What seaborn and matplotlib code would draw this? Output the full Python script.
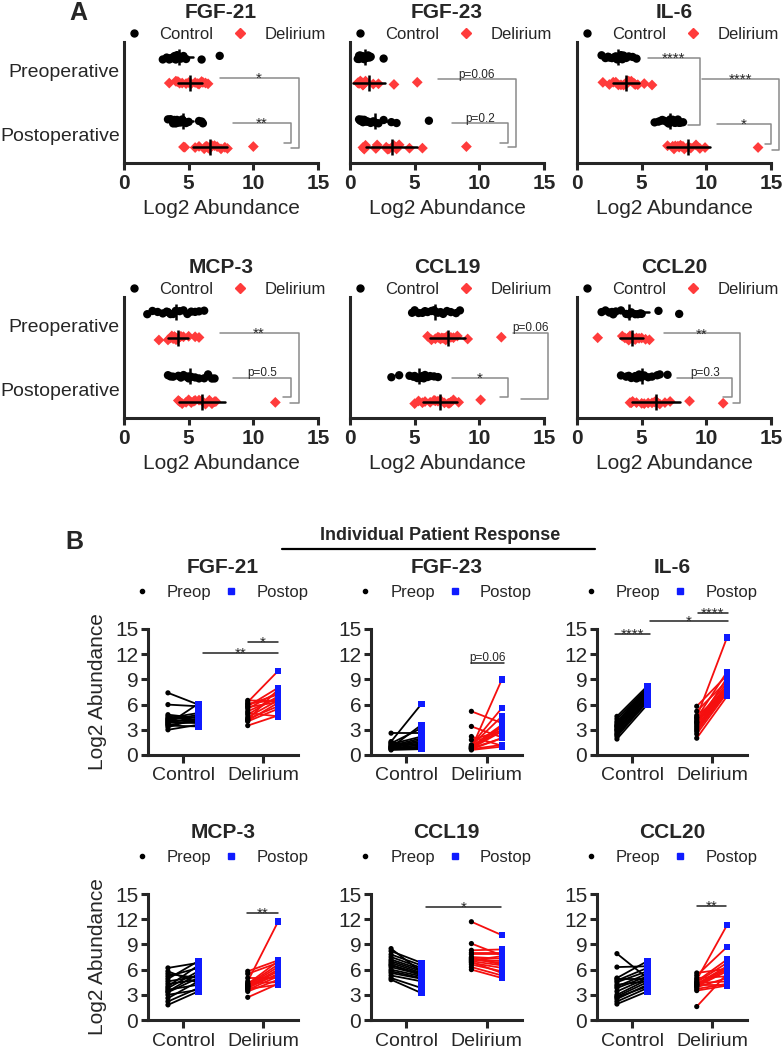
import numpy as np
import pandas as pd
import matplotlib.pyplot as plt
import seaborn as sns
from matplotlib.lines import Line2D

# ---- data (log2 abundance, paired by patient index) ----
markers = ["FGF-21", "FGF-23", "IL-6", "MCP-3", "CCL19", "CCL20"]
groups = ["Control", "Delirium"]
times_a = ["Preoperative", "Postoperative"]
times_b = ["Preop", "Postop"]

fgf21_ctrl_pre = [3.0, 3.3, 3.5, 3.6, 3.8, 3.9, 4.0, 4.1, 4.2, 4.3, 4.4, 4.6, 4.8, 6.0, 7.4, 3.7]
fgf21_ctrl_post = [3.6, 4.4, 3.4, 4.0, 4.6, 3.8, 4.2, 4.8, 3.9, 4.5, 5.0, 4.1, 4.4, 5.8, 6.0, 6.1]
fgf21_del_pre = [3.5, 4.0, 4.1, 4.3, 4.5, 4.8, 5.0, 5.2, 5.5, 5.7, 5.8, 6.0, 6.1, 6.3, 6.5, 4.2]
fgf21_del_post = [4.7, 5.5, 6.2, 5.8, 6.5, 7.0, 4.6, 6.8, 7.5, 6.3, 8.0, 7.2, 6.6, 10.0, 6.4, 7.8]

fgf23_ctrl_pre = [0.6, 0.7, 0.8, 0.8, 0.9, 1.0, 1.0, 1.1, 1.2, 1.3, 1.4, 1.5, 0.7, 0.9, 1.6, 2.6]
fgf23_ctrl_post = [0.7, 0.9, 1.0, 1.2, 1.4, 1.6, 1.8, 2.0, 1.3, 2.2, 3.2, 1.1, 0.8, 3.6, 6.1, 2.6]
fgf23_del_pre = [0.6, 0.7, 0.7, 0.8, 0.8, 0.9, 0.9, 1.0, 1.0, 1.1, 1.2, 1.8, 2.2, 3.4, 5.2, 0.8]
fgf23_del_post = [1.0, 1.2, 2.0, 2.0, 9.0, 3.0, 3.4, 3.6, 3.3, 4.6, 5.6, 2.9, 1.1, 2.1, 3.8, 2.8]

il6_ctrl_pre = [1.9, 2.2, 2.5, 2.7, 2.9, 3.0, 3.1, 3.3, 3.4, 3.6, 3.8, 4.0, 4.3, 4.6, 2.4, 3.5]
il6_ctrl_post = [6.0, 6.3, 6.6, 6.8, 7.0, 7.1, 7.2, 7.4, 7.5, 7.6, 7.8, 7.9, 8.0, 8.2, 6.5, 7.7]
il6_del_pre = [2.0, 2.5, 2.8, 3.0, 3.2, 3.4, 3.6, 3.8, 4.0, 4.2, 4.4, 4.5, 4.7, 5.2, 5.8, 3.9]
il6_del_post = [7.0, 7.4, 7.6, 7.8, 8.0, 8.2, 9.2, 7.9, 8.3, 8.6, 9.9, 14.0, 7.5, 8.8, 9.5, 8.1]

mcp3_ctrl_pre = [1.8, 2.2, 2.6, 3.0, 3.3, 3.6, 3.8, 4.0, 4.3, 4.6, 4.9, 5.2, 5.5, 5.8, 6.2, 3.4]
mcp3_ctrl_post = [3.4, 3.8, 4.6, 3.6, 5.0, 4.2, 5.8, 6.5, 4.8, 5.2, 7.0, 6.2, 5.0, 4.4, 6.8, 5.5]
mcp3_del_pre = [2.7, 3.4, 3.6, 3.8, 3.9, 4.0, 4.1, 4.2, 4.3, 4.4, 4.6, 5.0, 5.5, 5.8, 3.7, 4.0]
mcp3_del_post = [4.3, 4.8, 5.2, 5.5, 5.8, 6.0, 6.3, 6.6, 7.0, 4.5, 11.7, 5.0, 6.8, 7.1, 4.2, 5.4]

ccl19_ctrl_pre = [4.8, 5.0, 5.3, 5.6, 5.8, 6.0, 6.3, 6.5, 6.8, 7.0, 7.2, 7.5, 7.8, 8.2, 8.5, 6.6]
ccl19_ctrl_post = [3.2, 3.8, 4.6, 4.9, 5.0, 5.2, 5.4, 5.5, 5.6, 5.8, 6.0, 6.2, 6.5, 6.8, 5.7, 5.3]
ccl19_del_pre = [6.0, 6.3, 6.6, 6.8, 7.0, 7.1, 7.2, 7.3, 7.5, 7.8, 8.0, 8.3, 9.1, 11.7, 6.9, 7.4]
ccl19_del_post = [5.0, 5.3, 5.8, 6.2, 6.5, 7.6, 6.8, 7.0, 7.3, 7.8, 8.0, 8.4, 7.7, 10.1, 5.6, 6.6]

ccl20_ctrl_pre = [1.9, 2.2, 2.5, 2.8, 3.0, 3.4, 3.8, 4.0, 4.2, 4.5, 4.7, 4.9, 5.0, 6.3, 7.9, 2.7]
ccl20_ctrl_post = [3.4, 3.8, 4.2, 4.5, 4.8, 5.0, 5.2, 5.5, 4.6, 5.8, 6.2, 4.9, 7.0, 6.4, 5.0, 4.0]
ccl20_del_pre = [1.6, 3.5, 3.7, 3.9, 4.0, 4.1, 4.2, 4.3, 4.4, 4.5, 4.6, 4.8, 5.0, 5.3, 5.6, 4.2]
ccl20_del_post = [5.5, 4.1, 4.3, 5.0, 5.8, 6.0, 6.2, 6.4, 4.6, 6.8, 7.2, 11.3, 5.2, 8.7, 6.1, 4.2]

values = {
    "FGF-21": (fgf21_ctrl_pre, fgf21_ctrl_post, fgf21_del_pre, fgf21_del_post),
    "FGF-23": (fgf23_ctrl_pre, fgf23_ctrl_post, fgf23_del_pre, fgf23_del_post),
    "IL-6": (il6_ctrl_pre, il6_ctrl_post, il6_del_pre, il6_del_post),
    "MCP-3": (mcp3_ctrl_pre, mcp3_ctrl_post, mcp3_del_pre, mcp3_del_post),
    "CCL19": (ccl19_ctrl_pre, ccl19_ctrl_post, ccl19_del_pre, ccl19_del_post),
    "CCL20": (ccl20_ctrl_pre, ccl20_ctrl_post, ccl20_del_pre, ccl20_del_post),
}

# significance brackets, panel A: (label, y_top, y_bottom, x_start, x_right, x_hook)
brackets_a = {
    "FGF-21": [("*", 0.12, 1.22, 7.4, 13.5, 12.9), ("**", 0.83, 1.14, 8.4, 12.9, 12.4)],
    "FGF-23": [("p=0.06", 0.14, 1.20, 6.8, 12.8, 12.2), ("p=0.2", 0.83, 1.14, 7.9, 12.2, 11.6)],
    "IL-6": [("****", -0.19, 0.86, 5.5, 9.5, 8.6), ("****", 0.14, 1.25, 9.7, 15.6, 15.1),
             ("*", 0.84, 1.16, 10.8, 15.0, 14.5)],
    "MCP-3": [("**", 0.12, 1.21, 7.4, 13.5, 12.8), ("p=0.5", 0.82, 1.12, 8.4, 12.9, 12.3)],
    "CCL19": [("p=0.06", 0.12, 1.16, 12.6, 15.3, 13.2), ("*", 0.82, 1.12, 7.9, 12.2, 11.6)],
    "CCL20": [("**", 0.13, 1.22, 6.7, 12.6, 12.1), ("p=0.3", 0.82, 1.12, 7.75, 12.0, 11.3)],
}
# significance lines, panel B: (label, y, x_start, x_end)
brackets_b = {
    "FGF-21": [("**", 12.1, 0.25, 1.19), ("*", 13.45, 0.81, 1.19)],
    "FGF-23": [("p=0.06", 11.0, 0.80, 1.22)],
    "IL-6": [("****", 14.4, -0.22, 0.22), ("*", 16.0, 0.22, 1.20), ("****", 16.9, 0.82, 1.20)],
    "MCP-3": [("**", 12.7, 0.80, 1.19)],
    "CCL19": [("*", 13.5, 0.24, 1.18)],
    "CCL20": [("**", 13.6, 0.81, 1.18)],
}

RED = "#FF3B3B"
RED_LINE = "#F50F0F"
BLUE = "#0F1BFF"
W, H = 783, 1050


def long_df(name):
    cpre, cpost, dpre, dpost = values[name]
    rows = []
    for g, pre, post in [("Control", cpre, cpost), ("Delirium", dpre, dpost)]:
        for i, (a, b) in enumerate(zip(pre, post)):
            rows.append(dict(pid=f"{g}{i}", group=g, time="Preoperative", tb="Preop", value=a))
            rows.append(dict(pid=f"{g}{i}", group=g, time="Postoperative", tb="Postop", value=b))
    df = pd.DataFrame(rows)
    df["xpos"] = df["group"].map({"Control": 0, "Delirium": 1}) + df["tb"].map({"Preop": -0.19, "Postop": 0.19})
    return df


def rect(x0, y0, x1, y1):
    return [x0 / W, 1 - y1 / H, (x1 - x0) / W, (y1 - y0) / H]


sns.set_theme(style="ticks")
plt.rcParams["font.family"] = ["Liberation Sans", "DejaVu Sans"]
np.random.seed(4)

fig = plt.figure(figsize=(7.83, 10.5), dpi=100)

a_cols = [(124, 318), (350, 544), (577, 771)]
a_rows = [(42, 163), (297, 418)]
b_cols = [(148, 298), (371, 522), (597, 747)]
b_rows = [(629, 755), (894, 1020)]

for k, name in enumerate(markers):
    df = long_df(name)

    # ---------- panel A ----------
    c0, c1 = a_cols[k % 3]
    r0, r1 = a_rows[k // 3]
    ax = fig.add_axes(rect(c0, r0, c1, r1))
    for g, mk in [("Control", "o"), ("Delirium", "D")]:
        sns.stripplot(data=df[df.group == g], x="value", y="time", hue="group",
                      order=times_a, hue_order=groups, orient="h", dodge=True,
                      jitter=0.07, palette={"Control": "black", "Delirium": RED},
                      marker=mk, size=6 if mk == "o" else 5.5, legend=False, ax=ax)
    sns.pointplot(data=df, x="value", y="time", hue="group", order=times_a,
                  hue_order=groups, orient="h", dodge=0.4, estimator="mean",
                  errorbar="sd", palette={"Control": "black", "Delirium": "black"},
                  markers="|", markersize=11, markeredgewidth=1.8, linestyle="none",
                  err_kws={"linewidth": 1.8}, legend=False, ax=ax, zorder=5)
    ax.set_xlim(0, 15)
    ax.set_ylim(1.45, -0.44)
    ax.set_xticks([0, 5, 10, 15])
    ax.set_xlabel("Log2 Abundance", fontsize=15, labelpad=4)
    ax.set_ylabel("")
    sns.despine(ax=ax)
    for s in ["left", "bottom"]:
        ax.spines[s].set_linewidth(2.2)
    ax.tick_params(axis="x", length=5, width=2.2, labelsize=15, pad=3)
    ax.tick_params(axis="y", length=0, labelsize=14, pad=3)
    for lbl in ax.get_xticklabels():
        lbl.set_fontweight("bold")
    if k % 3 != 0:
        ax.tick_params(axis="y", labelleft=False)
    ax.set_title(name, fontsize=15, fontweight="bold", pad=17)
    handles = [Line2D([], [], ls="none", marker="o", color="black", markersize=5),
               Line2D([], [], ls="none", marker="D", color=RED, markersize=5)]
    ax.legend(handles, groups, loc="center", bbox_to_anchor=(0.52, 1.06), ncol=2,
              frameon=False, fontsize=12, handlelength=1.2, handletextpad=0.9,
              columnspacing=1.0, borderaxespad=0)
    for lab, yt, yb, xs, xr, xh in brackets_a[name]:
        ax.plot([xs, xr, xr, xh], [yt, yt, yb, yb], color="#8a8a8a", lw=1.1, clip_on=False)
        star = lab.startswith("*")
        ax.annotate(lab, xy=((xs + xr) / 2, yt), xytext=(0, -3.5 if star else 1),
                    textcoords="offset points", ha="center", va="baseline",
                    fontsize=11 if star else 8.5, annotation_clip=False)

    # ---------- panel B ----------
    c0, c1 = b_cols[k % 3]
    r0, r1 = b_rows[k // 3]
    bx = fig.add_axes(rect(c0, r0, c1, r1))
    sns.lineplot(data=df, x="xpos", y="value", units="pid", estimator=None, hue="group",
                 palette={"Control": "black", "Delirium": RED_LINE}, lw=1.3,
                 legend=False, ax=bx)
    sns.scatterplot(data=df, x="xpos", y="value", hue="tb", style="tb", size="tb",
                    hue_order=times_b, style_order=times_b, size_order=times_b,
                    markers={"Preop": "o", "Postop": "s"}, sizes={"Preop": 14, "Postop": 22},
                    palette={"Preop": "black", "Postop": BLUE}, linewidth=0,
                    legend=False, ax=bx, zorder=3)
    bx.set_xlim(-0.44, 1.44)
    bx.set_ylim(0, 15)
    bx.set_yticks(range(0, 16, 3))
    bx.set_xticks([0, 1])
    bx.set_xticklabels(groups)
    bx.set_xlabel("")
    bx.set_ylabel("Log2 Abundance" if k % 3 == 0 else "", fontsize=15, labelpad=6)
    sns.despine(ax=bx)
    for s in ["left", "bottom"]:
        bx.spines[s].set_linewidth(2.2)
    bx.tick_params(axis="y", length=5, width=2.2, labelsize=15, pad=2)
    bx.tick_params(axis="x", length=6, width=2.2, labelsize=14, pad=3)
    bx.set_title(name, fontsize=15, fontweight="bold", pad=40)
    handles = [Line2D([], [], ls="none", marker="o", color="black", markersize=3),
               Line2D([], [], ls="none", marker="s", color=BLUE, markersize=4)]
    bx.legend(handles, times_b, loc="center", bbox_to_anchor=(0.48, 1.29), ncol=2,
              frameon=False, fontsize=12, handlelength=1.2, handletextpad=0.9,
              columnspacing=0.6, borderaxespad=0)
    for lab, yy, xs, xe in brackets_b[name]:
        bx.plot([xs, xe], [yy, yy], color="#222222", lw=1.1, clip_on=False)
        star = lab.startswith("*")
        bx.annotate(lab, xy=((xs + xe) / 2, yy), xytext=(0, -3.5 if star else 1),
                    textcoords="offset points", ha="center", va="baseline",
                    fontsize=11 if star else 8.5, annotation_clip=False)

# panel letters and group header
fig.text(78 / W, 1 - 13 / H, "A", fontsize=18, fontweight="bold", ha="center", va="center")
fig.text(74 / W, 1 - 542 / H, "B", fontsize=18, fontweight="bold", ha="center", va="center")
fig.text(440 / W, 1 - 535 / H, "Individual Patient Response", fontsize=13, fontweight="bold",
         ha="center", va="center")
fig.add_artist(Line2D([282 / W, 595 / W], [1 - 549 / H, 1 - 549 / H], color="black",
                      lw=1.6, transform=fig.transFigure))

fig.savefig("out.png", dpi=100)
